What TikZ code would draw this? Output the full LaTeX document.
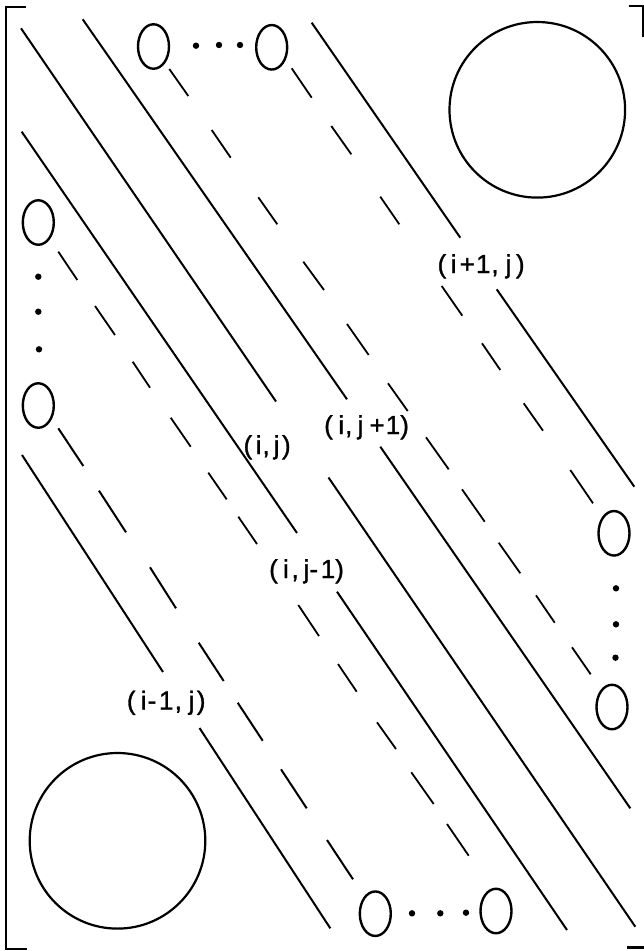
\documentclass[tikz,border=0pt]{standalone}
\usepackage{fontspec}
\setmainfont{Liberation Sans}
\newfontfamily\lblfont[FakeBold=1.2]{Liberation Sans}
\usetikzlibrary{shapes.geometric}
\newcommand{\ks}[1]{\kern#1pt\relax}
\begin{document}
\begin{tikzpicture}[x=1pt,y=-1pt,
  sline/.style={line width=2pt},
  dline/.style={line width=1.8pt},
  smallell/.style={draw, ellipse, line width=2.4pt, minimum width=31pt, minimum height=44.5pt, inner sep=0pt},
  bigc/.style={draw, circle, line width=2.2pt, minimum size=175.6pt, inner sep=0pt},
  dotn/.style={fill, circle, minimum size=6.4pt, inner sep=0pt},
  lbl/.style={font=\lblfont\fontsize{26}{28}\selectfont, inner sep=0pt, anchor=base west},
  brk/.style={line width=2.8pt}]
\useasboundingbox (0,0) rectangle (644,951);

% brackets
\draw[brk] (26,7) -- (6,7) -- (6,949) -- (27,949);
\draw[brk] (628.7,6) -- (643,6) -- (643,37);
\draw[brk] (627,947.3) -- (644,947.3);

% big circles
\node[bigc] (CTR) at (537.3,109.8) {};
\node[bigc] (CBL) at (117.5,840.8) {};

% small ellipses
\node[smallell] (T1) at (153.5,46.5) {};
\node[smallell] (T2) at (271.7,47.3) {};
\node[smallell] (LA) at (38.3,222.5) {};
\node[smallell] (LB) at (38.3,405.5) {};
\node[smallell] (RA) at (614,533.3) {};
\node[smallell] (RB) at (612,707) {};
\node[smallell] (BA) at (375.3,913.7) {};
\node[smallell] (BB) at (496,911) {};

% dots
\node[dotn] (td1) at (196,45.7) {};
\node[dotn] (td2) at (219,45) {};
\node[dotn] (td3) at (240,45) {};
\node[dotn] (ld1) at (38.3,276.7) {};
\node[dotn] (ld2) at (38.3,311.7) {};
\node[dotn] (ld3) at (39,349.3) {};
\node[dotn] (rd1) at (616,588.3) {};
\node[dotn] (rd2) at (616,624.3) {};
\node[dotn] (rd3) at (615.5,657.7) {};
\node[dotn] (bd1) at (412,913.3) {};
\node[dotn] (bd2) at (440.3,913.3) {};
\node[dotn] (bd3) at (466,912.7) {};

% solid diagonal lines (broken at labels)
\draw[sline] (22,455) -- (163,672);
\draw[sline] (199.5,728) -- (330.3,928.3);
\draw[sline] (21.7,131.7) -- (297,533);
\draw[sline] (337,591.7) -- (567,930);
\draw[sline] (21,28.3) -- (276,401.5);
\draw[sline] (328.5,477.5) -- (635.3,926.7);
\draw[sline] (82.7,19.3) -- (347,399.3);
\draw[sline] (380.3,446.7) -- (630.3,808.3);
\draw[sline] (311.7,22.7) -- (460.3,237.7);
\draw[sline] (496.7,289.3) -- (634.3,486.7);

% dashed diagonal from T1 to RB
\foreach \a/\b/\c/\d in {169.3/69/188.3/96, 211.7/130/230.7/157.7, 258.3/197.3/277.3/224.3,
  303.3/261.7/324/290, 347/324/368.7/355, 388/383.3/407.7/411, 426/437.3/448.7/469.3,
  462/489.3/484.7/521.7, 498.7/542.7/520.3/573.3, 536/595.3/554.7/622.7, 572/647.3/590.7/674.3}
  \draw[dline] (\a,\b) -- (\c,\d);
% dashed diagonal from T2 to RA
\foreach \a/\b/\c/\d in {291.7/68.3/311.7/97.7, 331.3/126/351.3/154.3, 380.3/196.7/399.3/224.3,
  441.7/286/462.3/315.7, 482/343.3/500.3/370, 523.7/403.3/543/430.7, 570.3/470/593/503.3}
  \draw[dline] (\a,\b) -- (\c,\d);
% dashed diagonal from LA to BB
\foreach \a/\b/\c/\d in {58.3/251.7/77.3/280, 95/306/115/335, 132.7/361.7/150/387.7,
  170.7/417.7/190.7/446.7, 208.3/472.7/226.7/499.3, 238.3/516.7/257/544, 298.3/605/319/636,
  338/664/356.7/691.7, 377/722.3/396/749, 411.3/772.3/433.7/804, 447/824/468.7/855.7}
  \draw[dline] (\a,\b) -- (\c,\d);
% dashed diagonal from LB to BA
\foreach \a/\b/\c/\d in {58.3/428.3/83.3/466, 99/490.7/126/532.3, 150/567.3/176/608.3,
  198.7/642.7/223.7/681, 237.7/702.7/262.7/740.7, 281/769.3/306.7/808.3, 327/840/353/879.3}
  \draw[dline, line width=2pt] (\a,\b) -- (\c,\d);

% labels
\node[lbl] (lip) at (437.4,273) {(\ks{4.5}i\ks{3.2}+\ks{1.1}1\ks{1},\ks{7}j\ks{4.5})};
\node[lbl] (lij) at (243.4,454) {(\ks{3.5}i\ks{1},\ks{4}j\ks{2.5})};
\node[lbl] (ljp) at (324,434) {(\ks{5.5}i\ks{1},\ks{5.2}j\ks{6.2}+\ks{1.1}1)};
\node[lbl] (ljm) at (269,578) {(\ks{5.2}i\ks{2.7},\ks{4.9}j-\ks{2.7}1)};
\node[lbl] (lim) at (126.7,709.5) {(\ks{5.2}i\ks{1.1}-\ks{2.7}1\ks{1.3},\ks{6.6}j\ks{2.5})};
\end{tikzpicture}
\end{document}
